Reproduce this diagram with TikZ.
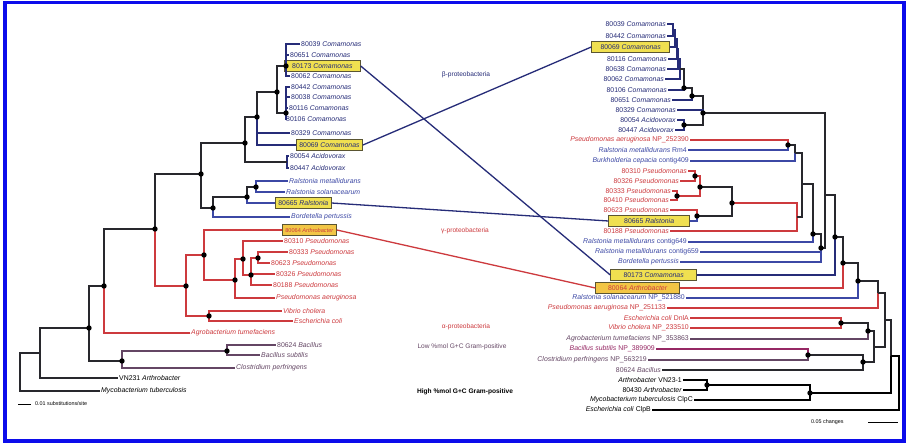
\documentclass[tikz,border=0pt]{standalone}
\usepackage{fontspec}
\setmainfont{Liberation Sans}
\definecolor{frameblue}{RGB}{12,12,235}
\definecolor{navyc}{RGB}{38,44,120}
\definecolor{bluec}{RGB}{60,72,165}
\definecolor{redc}{RGB}{205,58,62}
\definecolor{gpc}{RGB}{100,70,100}
\definecolor{bsc}{RGB}{150,40,100}
\definecolor{treec}{RGB}{40,40,45}
\definecolor{boxfill}{RGB}{240,224,80}
\definecolor{boxfillb}{RGB}{242,198,70}
\definecolor{boxedge}{RGB}{90,85,50}
\newcommand{\tedge}[3]{\draw[#1] (#2) |- (#3);}
\tikzset{
  tr/.style={line width=1.1pt, draw=treec},
  cb/.style={tr, draw=navyc},
  cr/.style={tr, draw=bluec},
  cp/.style={tr, draw=redc},
  cg/.style={tr, draw=gpc},
  cs/.style={tr, draw=bsc},
  ck/.style={tr, draw=black},
  lbl/.style={font=\fontsize{6.9}{7}\selectfont, inner sep=1pt},
  lw/.style={lbl, anchor=west},
  le/.style={lbl, anchor=east},
  leafbox/.style={lbl, draw=boxedge, fill=boxfill, line width=0.7pt, minimum height=11.5pt, inner xsep=3pt},
  grp/.style={font=\fontsize{6.6}{7}\selectfont, inner sep=1pt},
  cross/.style={line width=1.3pt, draw=navyc},
}
\begin{document}
\begin{tikzpicture}[x=1pt,y=-1pt]
\useasboundingbox (0,0) rectangle (907,443);
\fill[white] (0,0) rectangle (907,443);

% ---------------- LEFT TREE leaves ----------------
\node[lw, text=navyc] (L1) at (300,44) {80039 \textit{Comamonas}};
\node[lw, text=navyc] (L2) at (289,55) {80651 \textit{Comamonas}};
\node[leafbox, anchor=west, text=navyc, minimum width=76pt] (L3) at (284,66) {80173 \textit{Comamonas}};
\node[lw, text=navyc] (L4) at (290,76) {80062 \textit{Comamonas}};
\node[lw, text=navyc] (L5) at (290,87) {80442 \textit{Comamonas}};
\node[lw, text=navyc] (L6) at (290,97) {80038 \textit{Comamonas}};
\node[lw, text=navyc] (L7) at (288,108) {80116 \textit{Comamonas}};
\node[lw, text=navyc] (L8) at (285,119) {80106 \textit{Comamonas}};
\node[lw, text=navyc] (L9) at (290,133) {80329 \textit{Comamonas}};
\node[leafbox, anchor=west, text=navyc, minimum width=63pt] (L10) at (296,145) {80069 \textit{Comamonas}};
\node[lw, text=navyc] (L11) at (289,156) {80054 \textit{Acidovorax}};
\node[lw, text=navyc] (L12) at (289,168) {80447 \textit{Acidovorax}};
\node[lw, text=bluec] (L13) at (288,181) {\textit{Ralstonia metallidurans}};
\node[lw, text=bluec] (L14) at (285,192) {\textit{Ralstonia solanacearum}};
\node[leafbox, anchor=west, text=navyc, minimum width=55pt] (L15) at (275,203) {80665 \textit{Ralstonia}};
\node[lw, text=bluec] (L16) at (290,217) {\textit{Bordetella pertussis}};
\node[leafbox, anchor=west, text=redc, fill=boxfillb, minimum width=52pt, font=\fontsize{5.6}{6}\selectfont] (L17) at (282,230) {80064 \textit{Arthrobacter}};
\node[lw, text=redc] (L18) at (283,241) {80310 \textit{Pseudomonas}};
\node[lw, text=redc] (L19) at (288,252) {80333 \textit{Pseudomonas}};
\node[lw, text=redc] (L20) at (270,263) {80623 \textit{Pseudomonas}};
\node[lw, text=redc] (L21) at (275,274) {80326 \textit{Pseudomonas}};
\node[lw, text=redc] (L22) at (272,285) {80188 \textit{Pseudomonas}};
\node[lw, text=redc] (L23) at (275,298) {\textit{Pseudomonas aeruginosa}};
\node[lw, text=redc] (L24) at (282,311) {\textit{Vibrio cholera}};
\node[lw, text=redc] (L25) at (293,321) {\textit{Escherichia coli}};
\node[lw, text=redc] (L26) at (190,333) {\textit{Agrobacterium tumefaciens}};
\node[lw, text=gpc] (L27) at (276,345) {80624 \textit{Bacillus}};
\node[lw, text=gpc] (L28) at (260,355) {\textit{Bacillus subtilis}};
\node[lw, text=gpc] (L29) at (235,368) {\textit{Clostridium perfringens}};
\node[lw, text=black] (L30) at (118,378) {VN231 \textit{Arthrobacter}};
\node[lw, text=black] (L31) at (100,391) {\textit{Mycobacterium tuberculosis}};

% internal nodes (left)
\coordinate (cA) at (286,66);
\coordinate (cB) at (286,113);
\coordinate (A) at (277,92);
\coordinate (B) at (257,117);
\coordinate (acid) at (287,162);
\coordinate (C) at (245,143);
\coordinate (G) at (256,187);
\coordinate (F) at (247,197);
\coordinate (E) at (213,208);
\coordinate (D) at (201,174);
\coordinate (H) at (155,229);
\coordinate (N1) at (258,258);
\coordinate (N2) at (251,275);
\coordinate (M) at (243,259);
\coordinate (Lq) at (235,280);
\coordinate (K) at (204,255);
\coordinate (VE) at (209,316);
\coordinate (I) at (186,286);
\coordinate (J) at (104,286);
\coordinate (P) at (227,351);
\coordinate (O) at (122,361);
\coordinate (Q) at (89,328);
\coordinate (Rr) at (40,353);
\coordinate (Root) at (20,372);

\tedge{cb}{cA}{L1.west} \tedge{cb}{cA}{L2.west} \tedge{cb}{cA}{L3.west} \tedge{cb}{cA}{L4.west}
\tedge{cb}{cB}{L5.west} \tedge{cb}{cB}{L6.west} \tedge{cb}{cB}{L7.west} \tedge{cb}{cB}{L8.west}
\tedge{tr}{A}{cA} \tedge{tr}{A}{cB}
\tedge{tr}{B}{A} \tedge{cb}{B}{L9.west} \tedge{cb}{B}{L10.west}
\tedge{cb}{acid}{L11.west} \tedge{cb}{acid}{L12.west}
\tedge{tr}{C}{B} \tedge{tr}{C}{acid}
\tedge{cr}{G}{L13.west} \tedge{cr}{G}{L14.west}
\tedge{tr}{F}{G} \tedge{cr}{F}{L15.west}
\tedge{tr}{E}{F} \tedge{cr}{E}{L16.west}
\tedge{tr}{D}{C} \tedge{tr}{D}{E}
\tedge{tr}{H}{D} \tedge{cp}{H}{I}
\tedge{cp}{N1}{L19.west} \tedge{cp}{N1}{L20.west}
\tedge{cp}{N2}{N1} \tedge{cp}{N2}{L21.west} \tedge{cp}{N2}{L22.west}
\tedge{cp}{M}{L18.west} \tedge{cp}{M}{N2}
\tedge{cp}{Lq}{M} \tedge{cp}{Lq}{L23.west}
\tedge{cp}{K}{L17.west} \tedge{cp}{K}{Lq}
\tedge{cp}{VE}{L24.west} \tedge{cp}{VE}{L25.west}
\tedge{cp}{I}{K} \tedge{cp}{I}{VE}
\tedge{tr}{J}{H} \tedge{cp}{J}{L26.west}
\tedge{cg}{P}{L27.west} \tedge{cg}{P}{L28.west}
\tedge{cg}{O}{P} \tedge{cg}{O}{L29.west}
\tedge{tr}{Q}{J} \tedge{tr}{Q}{O}
\tedge{tr}{Rr}{Q} \tedge{tr}{Rr}{L30.west}
\tedge{tr}{Root}{Rr} \tedge{tr}{Root}{L31.west}

\foreach \n in {cA,cB,A,B,C,G,F,E,D,H,N1,N2,M,Lq,K,VE,I,J,P,O,Q}
  \fill[black] (\n) circle (2.7pt);

% scale bar left
\coordinate (sbl1) at (18,404);
\node[anchor=west, font=\fontsize{5.4}{6}\selectfont, inner sep=1pt] (sbl) at (34,404) {0.01 substitutions/site};
\draw[ck, line width=0.9pt] (sbl1) -- ++(13,0);

% ---------------- RIGHT TREE leaves ----------------
\node[le, text=navyc] (R1) at (667,24) {80039 \textit{Comamonas}};
\node[le, text=navyc] (R2) at (667,36) {80442 \textit{Comamonas}};
\node[leafbox, anchor=east, text=navyc, minimum width=78pt] (R3) at (670,47) {80069 \textit{Comamonas}};
\node[le, text=navyc] (R4) at (668,59) {80116 \textit{Comamonas}};
\node[le, text=navyc] (R5) at (667,69) {80638 \textit{Comamonas}};
\node[le, text=navyc] (R6) at (665,79) {80062 \textit{Comamonas}};
\node[le, text=navyc] (R7) at (668,90) {80106 \textit{Comamonas}};
\node[le, text=navyc] (R8) at (672,100) {80651 \textit{Comamonas}};
\node[le, text=navyc] (R9) at (677,110) {80329 \textit{Comamonas}};
\node[le, text=navyc] (R10) at (677,120) {80054 \textit{Acidovorax}};
\node[le, text=navyc] (R11) at (675,130) {80447 \textit{Acidovorax}};
\node[le, text=redc] (R12) at (690,140) {\textit{Pseudomonas aeruginosa} NP\_252390};
\node[le, text=bluec] (R13) at (688,150) {\textit{Ralstonia metallidurans} Rm4};
\node[le, text=bluec] (R14) at (690,161) {\textit{Burkholderia cepacia} contig409};
\node[le, text=redc] (R15) at (688,171) {80310 \textit{Pseudomonas}};
\node[le, text=redc] (R16) at (680,181) {80326 \textit{Pseudomonas}};
\node[le, text=redc] (R17) at (672,191) {80333 \textit{Pseudomonas}};
\node[le, text=redc] (R18) at (670,200) {80410 \textit{Pseudomonas}};
\node[le, text=redc] (R19) at (670,210) {80623 \textit{Pseudomonas}};
\node[leafbox, anchor=east, text=navyc, minimum width=81pt] (R20) at (690,221) {80665 \textit{Ralstonia}};
\node[le, text=redc] (R21) at (670,231) {80188 \textit{Pseudomonas}};
\node[le, text=bluec] (R22) at (688,242) {\textit{Ralstonia metallidurans} contig649};
\node[le, text=bluec] (R23) at (700,252) {\textit{Ralstonia metallidurans} contig659};
\node[le, text=bluec] (R24) at (680,262) {\textit{Bordetella pertussis}};
\node[leafbox, anchor=east, text=navyc, minimum width=86pt] (R25) at (697,275) {80173 \textit{Comamonas}};
\node[leafbox, anchor=east, text=redc, fill=boxfillb, minimum width=84pt] (R26) at (680,288) {80064 \textit{Arthrobacter}};
\node[le, text=bluec] (R27) at (686,298) {\textit{Ralstonia solanacearum} NP\_521880};
\node[le, text=redc] (R28) at (667,308) {\textit{Pseudomonas aeruginosa} NP\_251133};
\node[le, text=redc] (R29) at (690,318) {\textit{Escherichia coli} DnlA};
\node[le, text=redc] (R30) at (690,328) {\textit{Vibrio cholera} NP\_233510};
\node[le, text=gpc] (R31) at (690,339) {\textit{Agrobacterium tumefaciens} NP\_353863};
\node[le, text=bsc] (R32) at (656,349) {\textit{Bacillus subtilis} NP\_389909};
\node[le, text=gpc] (R33) at (648,360) {\textit{Clostridium perfringens} NP\_563219};
\node[le, text=gpc] (R34) at (662,370) {80624 \textit{Bacillus}};
\node[le, text=black] (R35) at (683,380) {\textit{Arthrobacter} VN23-1};
\node[le, text=black] (R36) at (683,390) {80430 \textit{Arthrobacter}};
\node[le, text=black] (R37) at (694,400) {\textit{Mycobacterium tuberculosis} ClpC};
\node[le, text=black] (R38) at (652,410) {\textit{Escherichia coli} ClpB};

% internal nodes (right)
\coordinate (n1) at (673,30);
\coordinate (n2) at (675,39);
\coordinate (n3) at (677,49);
\coordinate (n4) at (678,59);
\coordinate (n5) at (680,69);
\coordinate (n6) at (684,88);
\coordinate (n7) at (692,96);
\coordinate (n8) at (703,113);
\coordinate (racid) at (684,125);
\coordinate (p1) at (788,145);
\coordinate (p2) at (795,153);
\coordinate (q1) at (695,176);
\coordinate (q2) at (677,196);
\coordinate (q3) at (700,187);
\coordinate (q4) at (697,216);
\coordinate (q5) at (732,203);
\coordinate (q6) at (797,217);
\coordinate (q7) at (802,184);
\coordinate (r1) at (813,234);
\coordinate (r2) at (821,248);
\coordinate (s1) at (825,195);
\coordinate (s2) at (835,237);
\coordinate (s3) at (843,263);
\coordinate (s4) at (858,281);
\coordinate (s5) at (878,293);
\coordinate (ve2) at (841,323);
\coordinate (ag) at (868,331);
\coordinate (b1) at (808,355);
\coordinate (b2) at (863,362);
\coordinate (g1) at (874,347);
\coordinate (g2) at (885,320);
\coordinate (ar) at (707,385);
\coordinate (my) at (810,393);
\coordinate (g3) at (891,356);
\coordinate (rroot) at (899,383);

\tedge{cb}{n1}{R1.east} \tedge{cb}{n1}{R2.east}
\tedge{cb}{n2}{n1} \tedge{cb}{n2}{R3.east}
\tedge{cb}{n3}{n2} \tedge{cb}{n3}{R4.east}
\tedge{cb}{n4}{n3} \tedge{cb}{n4}{R5.east}
\tedge{cb}{n5}{n4} \tedge{cb}{n5}{R6.east}
\tedge{tr}{n6}{n5} \tedge{cb}{n6}{R7.east}
\tedge{tr}{n7}{n6} \tedge{cb}{n7}{R8.east}
\tedge{tr}{n8}{n7} \tedge{cb}{n8}{R9.east} \tedge{tr}{n8}{racid}
\tedge{cb}{racid}{R10.east} \tedge{cb}{racid}{R11.east}
\tedge{cp}{p1}{R12.east} \tedge{cr}{p1}{R13.east}
\tedge{tr}{p2}{p1} \tedge{cr}{p2}{R14.east}
\tedge{cp}{q1}{R15.east} \tedge{cp}{q1}{R16.east}
\tedge{cp}{q2}{R17.east} \tedge{cp}{q2}{R18.east}
\tedge{cp}{q3}{q1} \tedge{cp}{q3}{q2}
\tedge{cp}{q4}{R19.east} \tedge{cr}{q4}{R20.east}
\tedge{tr}{q5}{q3} \tedge{tr}{q5}{q4}
\tedge{cp}{q6}{q5} \tedge{cp}{q6}{R21.east}
\tedge{tr}{q7}{p2} \tedge{tr}{q7}{q6}
\tedge{tr}{r1}{q7} \tedge{cr}{r1}{R22.east}
\tedge{tr}{r2}{r1} \tedge{cr}{r2}{R23.east} \tedge{cr}{r2}{R24.east}
\tedge{tr}{s1}{n8} \tedge{tr}{s1}{r2}
\tedge{tr}{s2}{s1} \tedge{cb}{s2}{R25.east}
\tedge{tr}{s3}{s2} \tedge{cp}{s3}{R26.east}
\tedge{tr}{s4}{s3} \tedge{cr}{s4}{R27.east}
\tedge{tr}{s5}{s4} \tedge{cp}{s5}{R28.east}
\tedge{cp}{ve2}{R29.east} \tedge{cp}{ve2}{R30.east}
\tedge{tr}{ag}{ve2} \tedge{cg}{ag}{R31.east}
\tedge{cs}{b1}{R32.east} \tedge{cg}{b1}{R33.east}
\tedge{tr}{b2}{b1} \tedge{tr}{b2}{R34.east}
\tedge{tr}{g1}{ag} \tedge{tr}{g1}{b2}
\tedge{tr}{g2}{s5} \tedge{tr}{g2}{g1}
\tedge{ck}{ar}{R35.east} \tedge{ck}{ar}{R36.east}
\tedge{ck}{my}{ar} \tedge{ck}{my}{R37.east}
\tedge{tr}{g3}{g2} \tedge{ck}{g3}{my}
\tedge{ck}{rroot}{g3} \tedge{ck}{rroot}{R38.east}

\foreach \n in {n6,n7,n8,racid,p1,q1,q2,q3,q4,q5,r1,r2,s2,s3,s4,ve2,ag,b1,b2,ar,my}
  \fill[black] (\n) circle (2.7pt);

% scale bar right
\node[anchor=west, font=\fontsize{5.4}{6}\selectfont, inner sep=1pt] (sbr) at (810,422) {0.05 changes};
\coordinate (sbr1) at (868,422);
\draw[ck, line width=0.9pt] (sbr1) -- ++(30,0);

% ---------------- group labels ----------------
\node[grp, text=navyc] (gb) at (466,75) {β-proteobacteria};
\node[grp, text=redc] (gg) at (465,231) {γ-proteobacteria};
\node[grp, text=redc] (ga) at (466,327) {α-proteobacteria};
\node[grp, text=gpc] (glow) at (462,347) {Low \%mol G+C Gram-positive};
\node[grp, text=black, font=\bfseries\fontsize{6.6}{7}\selectfont] (ghigh) at (465,392) {High \%mol G+C Gram-positive};

% ---------------- crossing connectors ----------------
\draw[cross] (L3.east) -- (R25.west);
\draw[cross] (L10.east) -- (R3.west);
\draw[cross] (L15.east) -- (R20.west);
\draw[cross, draw=redc] (L17.east) -- (R26.west);

% frame
\draw[frameblue, line width=3.6pt] (5,2.6) rectangle (904,441.2);
\end{tikzpicture}
\end{document}
